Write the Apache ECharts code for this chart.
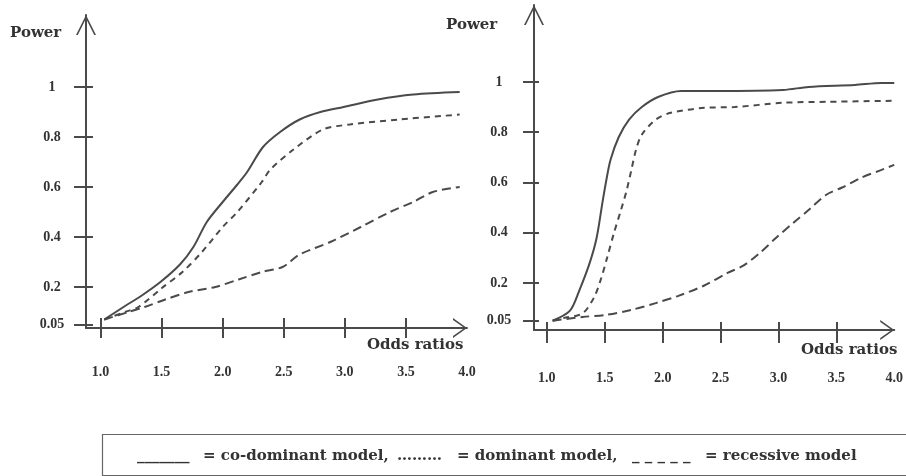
<!DOCTYPE html>
<html><head><meta charset="utf-8">
<script src="https://cdn.jsdelivr.net/npm/echarts@6/dist/echarts.min.js"></script>
<style>html,body{margin:0;padding:0;background:#fff}#c{width:906px;height:476px}</style>
</head><body><div id="c"></div>
<script>
// ---- tick values ----
const xTickValues = [1.0, 1.5, 2.0, 2.5, 3.0, 3.5];
const xLabelValues = [1.0, 1.5, 2.0, 2.5, 3.0, 3.5, 4.0];
const yTickValues = [0.05, 0.2, 0.4, 0.6, 0.8, 1];

// ---- left panel ----
const leftCoX  = [1.03,1.22,1.32,1.49,1.65,1.76,1.87,2.0,2.12,2.2,2.33,2.47,2.63,2.8,2.99,3.27,3.56,3.94];
const leftCoY  = [0.07,0.13,0.16,0.22,0.29,0.36,0.46,0.54,0.61,0.66,0.76,0.82,0.87,0.9,0.92,0.95,0.97,0.98];
const leftDomX = [1.03,1.2,1.31,1.5,1.67,1.83,2.0,2.12,2.32,2.39,2.58,2.82,3.04,3.45,3.94];
const leftDomY = [0.07,0.1,0.12,0.195,0.26,0.34,0.44,0.5,0.62,0.67,0.75,0.83,0.85,0.87,0.89];
const leftRecX = [1.03,1.23,1.36,1.53,1.72,1.94,2.13,2.32,2.49,2.63,2.88,3.13,3.37,3.56,3.72,3.94];
const leftRecY = [0.07,0.1,0.12,0.15,0.18,0.2,0.23,0.26,0.28,0.33,0.38,0.44,0.5,0.54,0.58,0.6];

// ---- right panel ----
const rightCoX  = [1.05,1.2,1.28,1.37,1.43,1.48,1.51,1.55,1.62,1.71,1.82,1.96,2.16,2.47,3.04,3.26,3.66,3.89,4.0];
const rightCoY  = [0.05,0.09,0.17,0.28,0.38,0.52,0.6,0.69,0.78,0.85,0.9,0.94,0.964,0.964,0.968,0.98,0.988,0.996,0.996];
const rightDomX = [1.05,1.14,1.31,1.41,1.47,1.52,1.58,1.64,1.69,1.73,1.77,1.82,1.94,2.07,2.36,2.62,3.04,3.43,4.0];
const rightDomY = [0.05,0.06,0.08,0.145,0.22,0.3,0.4,0.49,0.57,0.65,0.73,0.79,0.85,0.877,0.897,0.9,0.917,0.921,0.925];
const rightRecX = [1.05,1.31,1.51,1.73,1.94,2.13,2.36,2.56,2.7,2.84,2.98,3.13,3.26,3.41,3.55,3.72,3.89,4.0];
const rightRecY = [0.05,0.065,0.073,0.093,0.12,0.148,0.19,0.24,0.27,0.32,0.38,0.44,0.49,0.55,0.58,0.62,0.65,0.67];

const legendParts = ['_______', '= co-dominant model,', '………', '= dominant model,', '_ _ _ _ _', '= recessive model'];

const LINE = '#4a4a4a';
const TXT = '#333';
const TICKFONT = {color: TXT, fontFamily: 'Liberation Serif', fontWeight: 'bold', fontSize: 14};
const Y_ARROW = 'path://M0,100 L50,0 L100,100 L91,100 L50,18 L9,100 Z';
const X_ARROW = 'path://M0,70 L50,0 L100,70 L90,70 L50,13 L10,70 Z';

const zip = (xs, ys) => xs.map((x, i) => [x, ys[i]]);

function xAxes(grid, min, tOut, tIn, margin) {
  return [
    {type: 'value', gridIndex: grid, position: 'bottom', min: min, max: 4,
     axisLine: {show: true, onZero: false, symbol: ['none', X_ARROW], symbolSize: [20, 14], symbolOffset: [0, -7],
                lineStyle: {color: LINE, width: 2}},
     axisTick: {show: true, inside: false, length: tOut, customValues: xTickValues, lineStyle: {color: LINE, width: 2}},
     axisLabel: Object.assign({show: true, customValues: xLabelValues, margin: margin, formatter: v => v.toFixed(1)}, TICKFONT),
     splitLine: {show: false}},
    {type: 'value', gridIndex: grid, position: 'bottom', min: min, max: 4,
     axisLine: {show: false, onZero: false},
     axisTick: {show: true, inside: true, length: tIn, customValues: xTickValues, lineStyle: {color: LINE, width: 2}},
     axisLabel: {show: false}, splitLine: {show: false}}
  ];
}
function yAxes(grid, min, max, tOut, tIn, margin) {
  return [
    {type: 'value', gridIndex: grid, position: 'left', min: min, max: max,
     axisLine: {show: true, onZero: false, symbol: ['none', Y_ARROW], symbolSize: [22, 20], symbolOffset: [0, -10],
                lineStyle: {color: LINE, width: 2}},
     axisTick: {show: true, inside: false, length: tOut, customValues: yTickValues, lineStyle: {color: LINE, width: 2}},
     axisLabel: Object.assign({show: true, customValues: yTickValues, margin: margin, align: 'center'}, TICKFONT),
     splitLine: {show: false}},
    {type: 'value', gridIndex: grid, position: 'left', min: min, max: max,
     axisLine: {show: false, onZero: false},
     axisTick: {show: true, inside: true, length: tIn, customValues: yTickValues, lineStyle: {color: LINE, width: 2}},
     axisLabel: {show: false}, splitLine: {show: false}}
  ];
}
function line(xi, yi, data, type) {
  return {type: 'line', xAxisIndex: xi, yAxisIndex: yi, data: data, showSymbol: false, symbol: 'none',
          smooth: 0.3, lineStyle: {color: LINE, width: 2, type: type}};
}

const WORD = {color: TXT, fontFamily: 'DejaVu Serif', fontWeight: 'bold', fontSize: 15};
const LEG = {color: TXT, fontFamily: 'DejaVu Serif', fontWeight: 'bold', fontSize: 15};
const legLeft = [137, 203, 397, 457, 632, 705];

const option = {
  animation: false,
  backgroundColor: '#fff',
  grid: [
    {left: 86, top: 15, width: 381, height: 313},
    {left: 534, top: 5, width: 366, height: 325}
  ],
  xAxis: [].concat(xAxes(0, 0.881, 10, 10, 37), xAxes(1, 0.889, 13, 8, 41)),
  yAxis: [].concat(yAxes(0, 0.036, 1.288, 12, 7, 34), yAxes(1, 0.013, 1.306, 11, 5, 35)),
  series: [
    line(0, 0, zip(leftCoX, leftCoY), 'solid'),
    line(0, 0, zip(leftDomX, leftDomY), [6, 5]),
    line(0, 0, zip(leftRecX, leftRecY), [9, 5]),
    line(2, 2, zip(rightCoX, rightCoY), 'solid'),
    line(2, 2, zip(rightDomX, rightDomY), [6, 5]),
    line(2, 2, zip(rightRecX, rightRecY), [9, 5])
  ],
  title: [
    {text: 'Power', left: 10, top: 26, padding: 0, textStyle: WORD},
    {text: 'Power', left: 446, top: 18, padding: 0, textStyle: WORD},
    {text: 'Odds ratios', left: 367, top: 338, padding: 0, textStyle: WORD},
    {text: 'Odds ratios', left: 801, top: 343, padding: 0, textStyle: WORD}
  ].concat(legendParts.map((t, i) => ({text: t, left: legLeft[i], top: 449, padding: 0, textStyle: LEG}))),
  graphic: [
    {type: 'rect', left: 100, top: 432, shape: {width: 830, height: 41}, style: {fill: 'none', stroke: '#666', lineWidth: 1.2}}
  ]
};
echarts.init(document.getElementById('c')).setOption(option);
</script></body></html>
